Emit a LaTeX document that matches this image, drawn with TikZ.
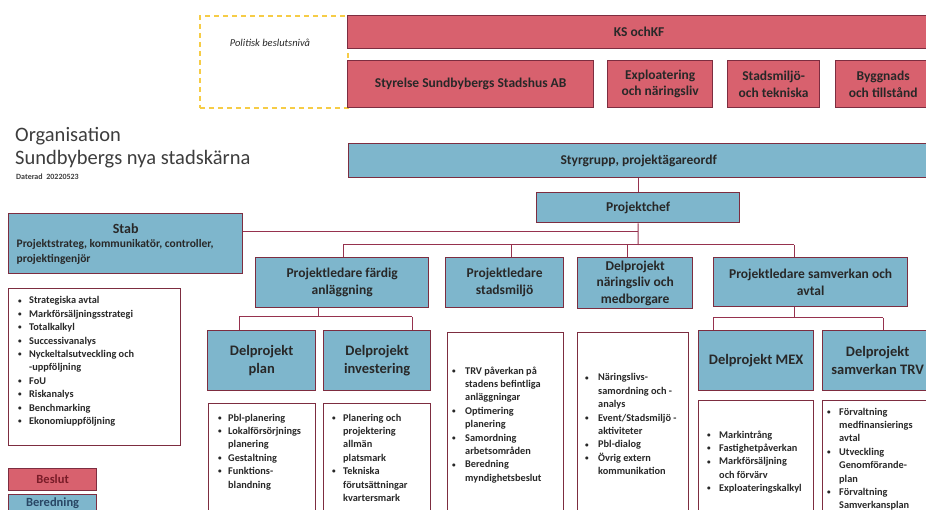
\documentclass[tikz,border=0pt]{standalone}
\usepackage{fontspec}
\setmainfont{Carlito}
\usepackage{graphicx}
\definecolor{pinkbox}{RGB}{216,97,110}
\definecolor{bluebox}{RGB}{126,182,204}
\definecolor{edge}{RGB}{125,45,64}
\definecolor{conncol}{RGB}{150,50,78}
\definecolor{dashy}{RGB}{246,204,70}
\definecolor{ink}{RGB}{40,40,40}
\definecolor{beslutink}{RGB}{120,28,40}
\definecolor{beredink}{RGB}{40,70,100}
\newlength\bw
\tikzset{
  basebox/.style={draw=edge, line width=1.3pt, inner sep=0pt, text=ink, align=center,
    font=\bfseries\fontsize{13.5}{16.5}\selectfont},
  redbox/.style={basebox, fill=pinkbox},
  bluebx/.style={basebox, fill=bluebox},
  bigbx/.style={bluebx, font=\bfseries\fontsize{14.5}{18}\selectfont},
  legendbx/.style={font=\bfseries\fontsize{12.5}{14}\selectfont},
  listbox/.style={draw=edge, line width=1pt, fill=white, inner sep=0pt},
  conn/.style={draw=conncol, line width=1pt},
  listtext/.style={inner sep=0pt, anchor=base west, text=ink,
    font=\bfseries\fontsize{10.3}{13.4}\selectfont},
  titletext/.style={inner sep=0pt, anchor=base west, text=ink!90!white},
}
\newcommand\bx[7]{\node[#1, anchor=north west, minimum width={(#5-#3)*1pt},
  minimum height={(#6-#4)*1pt}] (#2) at (#3,-#4) {#7};}
\newcommand\bl{\makebox[\bw][l]{\raisebox{0.8pt}{\scalebox{0.7}{\textbullet}}}}
\newcommand\lst[5]{\node[listtext] (#1) at (#2,-#3)
  {\setlength\bw{#4}\begin{tabular}[t]{@{}l@{}l@{}}#5\end{tabular}};}
\begin{document}
\begin{tikzpicture}[x=1pt, y=1pt]
\useasboundingbox (0,0) rectangle (926,-510);
\clip (0,0) rectangle (926,-510);
\fill[white] (0,0) rectangle (926,-510);

% political level
\node[draw=dashy, dash pattern=on 5pt off 4pt, line width=1.6pt, anchor=north west,
  minimum width=148pt, minimum height=92pt, inner sep=0pt] (pol) at (199,-15) {};
\node[inner sep=0pt, text=ink, font=\itshape\fontsize{10.5}{12}\selectfont] (polt) at (270,-43) {Politisk beslutsnivå};
\bx{redbox}{ks}{347}{15}{930}{48}{KS ochKF}
\bx{redbox}{sty}{347}{60}{593}{107}{Styrelse Sundbybergs Stadshus AB}
\bx{redbox}{expl}{607}{60}{712}{107}{Exploatering\\och näringsliv}
\bx{redbox}{stm}{727}{60}{819}{107}{Stadsmiljö-\\och tekniska}
\bx{redbox}{byg}{835}{60}{930}{107}{Byggnads\\och tillstånd}

% title
\node[titletext, font=\fontsize{20.5}{24}\selectfont] (t1) at (15,-142) {Organisation};
\node[titletext, font=\fontsize{20.5}{24}\selectfont] (t2) at (15,-165) {Sundbybergs nya stadskärna};
\node[titletext, font=\bfseries\fontsize{8}{10}\selectfont] (t3) at (16,-180) {Daterad\ \ 20220523};

% project organisation
\bx{bluebx}{sg}{348}{143}{928}{177}{Styrgrupp, projektägareordf}
\bx{bluebx}{pc}{536}{192}{739}{222}{Projektchef}
\bx{bluebx}{stab}{8}{213}{242}{273}{\parbox{218pt}{\centering\fontsize{14}{14.5}\selectfont Stab\par
  \raggedright\fontsize{11.5}{14.5}\selectfont Projektstrateg, kommunikatör, controller,\\projektingenjör}}
\bx{bluebx}{fd}{255}{257}{428}{307}{Projektledare färdig\\anläggning}
\bx{bluebx}{ps}{445}{257}{563}{307}{Projektledare\\stadsmiljö}
\bx{bluebx}{dn}{577}{257}{692}{308}{Delprojekt\\näringsliv och\\medborgare}
\bx{bluebx}{sv}{713}{257}{907}{306}{Projektledare samverkan och\\avtal}
\bx{bigbx}{dp}{207}{330}{315}{390}{Delprojekt\\plan}
\bx{bigbx}{di}{323}{330}{430}{390}{Delprojekt\\investering}
\bx{bigbx}{mex}{698}{330}{813}{390}{Delprojekt MEX}
\bx{bigbx}{trv}{822}{330}{932}{390}{Delprojekt\\samverkan TRV}

% list boxes
\bx{listbox}{stabl}{8}{288}{180}{445}{}
\bx{listbox}{pl}{208}{403}{315}{525}{}
\bx{listbox}{il}{323}{403}{430}{525}{}
\bx{listbox}{sl}{447}{332}{563}{525}{}
\bx{listbox}{nl}{577}{332}{688}{525}{}
\bx{listbox}{ml}{698}{400}{813}{525}{}
\bx{listbox}{tl}{822}{400}{932}{525}{}

\lst{stablt}{18}{304}{11pt}{\bl & Strategiska avtal\\ \bl & Markförsäljningsstrategi\\ \bl & Totalkalkyl\\
  \bl & Successivanalys\\ \bl & Nyckeltalsutveckling och\\ & -uppföljning\\ \bl & FoU\\ \bl & Riskanalys\\
  \bl & Benchmarking\\ \bl & Ekonomiuppföljning}
\lst{plt}{218}{421}{10pt}{\bl & Pbl-planering\\ \bl & Lokalförsörjnings\\ & planering\\ \bl & Gestaltning\\
  \bl & Funktions-\\ & blandning}
\lst{ilt}{332}{421}{11pt}{\bl & Planering och\\ & projektering\\ & allmän\\ & platsmark\\
  \bl & Tekniska\\ & förutsättningar\\ & kvartersmark}
\lst{slt}{452}{374}{13pt}{\bl & TRV påverkan på\\ & stadens befintliga\\ & anläggningar\\ \bl & Optimering\\
  & planering\\ \bl & Samordning\\ & arbetsområden\\ \bl & Beredning\\ & myndighetsbeslut}
\lst{nlt}{585}{381}{13pt}{\bl & Näringslivs-\\ & samordning och -\\ & analys\\ \bl & Event/Stadsmiljö -\\
  & aktiviteter\\ \bl & Pbl-dialog\\ \bl & Övrig extern\\ & kommunikation}
\lst{mlt}{707}{438}{12pt}{\bl & Markintrång\\ \bl & Fastighetpåverkan\\ \bl & Markförsäljning\\
  & och förvärv\\ \bl & Exploateringskalkyl}
\lst{tlt}{827}{415}{12pt}{\bl & Förvaltning\\ & medfinansierings\\ & avtal\\ \bl & Utveckling\\
  & Genomförande-\\ & plan\\ \bl & Förvaltning\\ & Samverkansplan}

% legend
\bx{redbox,legendbx}{bes}{8}{468}{96}{490}{\textcolor{beslutink}{Beslut}}
\bx{bluebx,legendbx}{ber}{8}{494}{96}{512}{\textcolor{beredink}{Beredning}}

% connectors
\draw[conn] (pc.north) -- (pc.north |- sg.south);
\coordinate (ja) at (638,-232);
\coordinate (jb) at (638,-245);
\draw[conn] (pc.south) -- (jb);
\draw[conn] (stab.east |- ja) -- (ja);
\coordinate (bL) at (343,-245);
\coordinate (bS) at (511,-245);
\coordinate (bN) at (627,-245);
\coordinate (bR) at (794,-245);
\draw[conn] (bL) -- (bR);
\draw[conn] (bL) -- (bL |- fd.north);
\draw[conn] (bS) -- (bS |- ps.north);
\draw[conn] (bN) -- (bN |- dn.north);
\draw[conn] (bR) -- (bR |- sv.north);
\coordinate (f1) at (318,-317);
\coordinate (fL) at (239,-317);
\coordinate (fR) at (412,-317);
\draw[conn] (fd.south -| f1) -- (f1);
\draw[conn] (fL) -- (fR);
\draw[conn] (fL) -- (fL |- dp.north);
\draw[conn] (fR) -- (fR |- di.north);
\coordinate (s1) at (794,-318);
\coordinate (sL) at (713,-318);
\coordinate (sR) at (883,-318);
\draw[conn] (sv.south -| s1) -- (s1);
\draw[conn] (sL) -- (sR);
\draw[conn] (sL) -- (sL |- mex.north);
\draw[conn] (sR) -- (sR |- trv.north);
\end{tikzpicture}
\end{document}
